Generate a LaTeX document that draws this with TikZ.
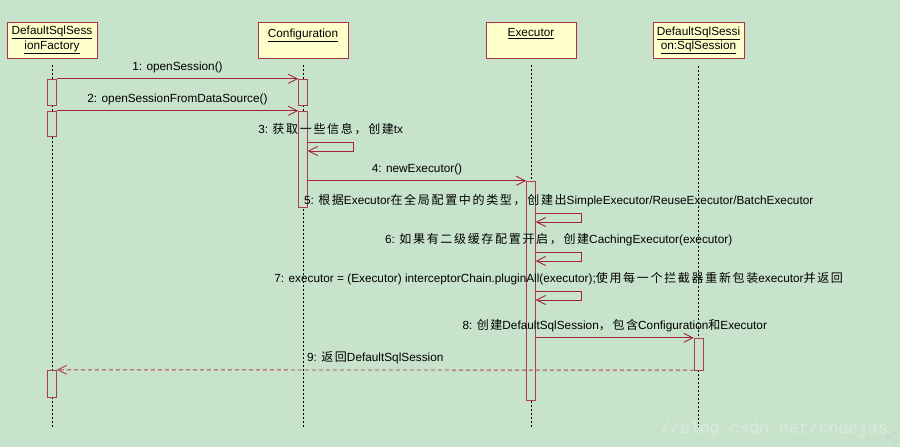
\documentclass[tikz,border=0pt]{standalone}
\usepackage{fontspec}
\setmainfont{Liberation Sans}
\newfontfamily\cjk[LetterSpace=14]{Noto Sans CJK SC}
\newfontfamily\wmfont{Liberation Mono}
\usetikzlibrary{arrows.meta, calc}

\definecolor{umlbg}{RGB}{199,227,204}
\definecolor{headfill}{RGB}{255,255,204}
\definecolor{headline}{RGB}{168,52,72}
\definecolor{msgline}{RGB}{165,35,58}
\definecolor{actline}{RGB}{176,60,84}

\newcommand{\zh}[1]{{\cjk\fontsize{12}{14}\selectfont #1}}

\begin{document}
\begin{tikzpicture}[
    x=1pt, y=-1pt,
    >={Straight Barb[length=9pt, width=9pt]},
    head/.style={draw=headline, fill=headfill, minimum width=90pt,
                 minimum height=36pt, inner sep=2pt, align=center,
                 font=\fontsize{11.8}{14.5}\selectfont},
    life/.style={draw=black, dash pattern=on 2pt off 2pt},
    act/.style={draw=actline, fill=umlbg, minimum width=9pt, inner sep=0pt},
    msg/.style={draw=msgline, line width=0.9pt, ->},
    ret/.style={draw=actline, line width=0.9pt, ->, dash pattern=on 4pt off 3pt},
    lbl/.style={font=\fontsize{11.8}{14}\selectfont, anchor=base,
                yshift=8.5pt, inner sep=0pt}
  ]
  \fill[umlbg] (0,0) rectangle (900,447);
  \useasboundingbox (0,0) rectangle (900,447);

  % heads
  \node[head] (fac) at (52,40) {\underline{DefaultSqlSess}\\\underline{ionFactory}};
  \node[head] (cfg) at (303,40) {\underline{Configuration}\\\mbox{}};
  \node[head] (exe) at (531,40) {\underline{Executor}\\\mbox{}};
  \node[head, minimum width=91pt] (dss) at (698.5,40.5)
    {\underline{DefaultSqlSessi}\\\underline{on:SqlSession}};

  % lifelines
  \foreach \h in {fac, cfg, exe, dss}
    \draw[life] ([yshift=-7pt]\h.south) -- (\h |- 0,427);

  % activations
  \node[act, minimum height=26pt] (fac1) at (52,92) {};
  \node[act, minimum height=25pt] (fac2) at (52,123.5) {};
  \node[act, minimum height=27pt] (fac3) at (52,383.5) {};
  \node[act, minimum height=26pt] (cfg1) at (303,92) {};
  \node[act, minimum height=96pt] (cfg2) at (303,159) {};
  \node[act, minimum height=219pt] (exe1) at (531,290.5) {};
  \node[act, minimum height=32pt] (dss1) at (698.5,354) {};

  % messages
  \draw[msg] (fac1.north east) -- node[lbl] {1: openSession()} (cfg1.north west);
  \draw[msg] (fac2.north east) -- node[lbl] {2: openSessionFromDataSource()}
    (cfg2.north west);
  \draw[msg] (cfg2.east |- 0,142) -- node[lbl] {3: \zh{获取一些信息，创建}tx}
    ++(46,0) -- ++(0,9) -- (cfg2.east |- 0,151);
  \draw[msg] (cfg2.east |- exe1.north) -- node[lbl] {4: newExecutor()}
    (exe1.north west);
  \draw[msg] (exe1.east |- 0,213) -- node[lbl]
    {5: \zh{根据}Executor\zh{在全局配置中的类型，创建出}SimpleExecutor/ReuseExecutor/BatchExecutor}
    ++(46,0) -- ++(0,9) -- (exe1.east |- 0,222);
  \draw[msg] (exe1.east |- 0,252) -- node[lbl]
    {6: \zh{如果有二级缓存配置开启，创建}CachingExecutor(executor)}
    ++(46,0) -- ++(0,9) -- (exe1.east |- 0,261);
  \draw[msg] (exe1.east |- 0,291) -- node[lbl]
    {7: executor = (Executor) interceptorChain.pluginAll(executor);\zh{使用每一个拦截器重新包装}executor\zh{并返回}}
    ++(46,0) -- ++(0,9) -- (exe1.east |- 0,300);
  \draw[msg] (exe1.east |- dss1.north) -- node[lbl]
    {8: \zh{创建}DefaultSqlSession\zh{，包含}Configuration\zh{和}Executor}
    (dss1.north west);
  \draw[ret] (dss1.south west) -- node[lbl, pos=0.5] {9: \zh{返回}DefaultSqlSession}
    (fac3.north east);

  % watermark
  \node[font=\wmfont\fontsize{16.5}{17}\selectfont, text=white!32!umlbg,
        anchor=base west, inner sep=0pt] (wm) at (660,433) {//blog.csdn.net/codejas};
  \draw[gray!45] (896,432) -- (887,437.5) -- (896,443) -- cycle;
\end{tikzpicture}
\end{document}
